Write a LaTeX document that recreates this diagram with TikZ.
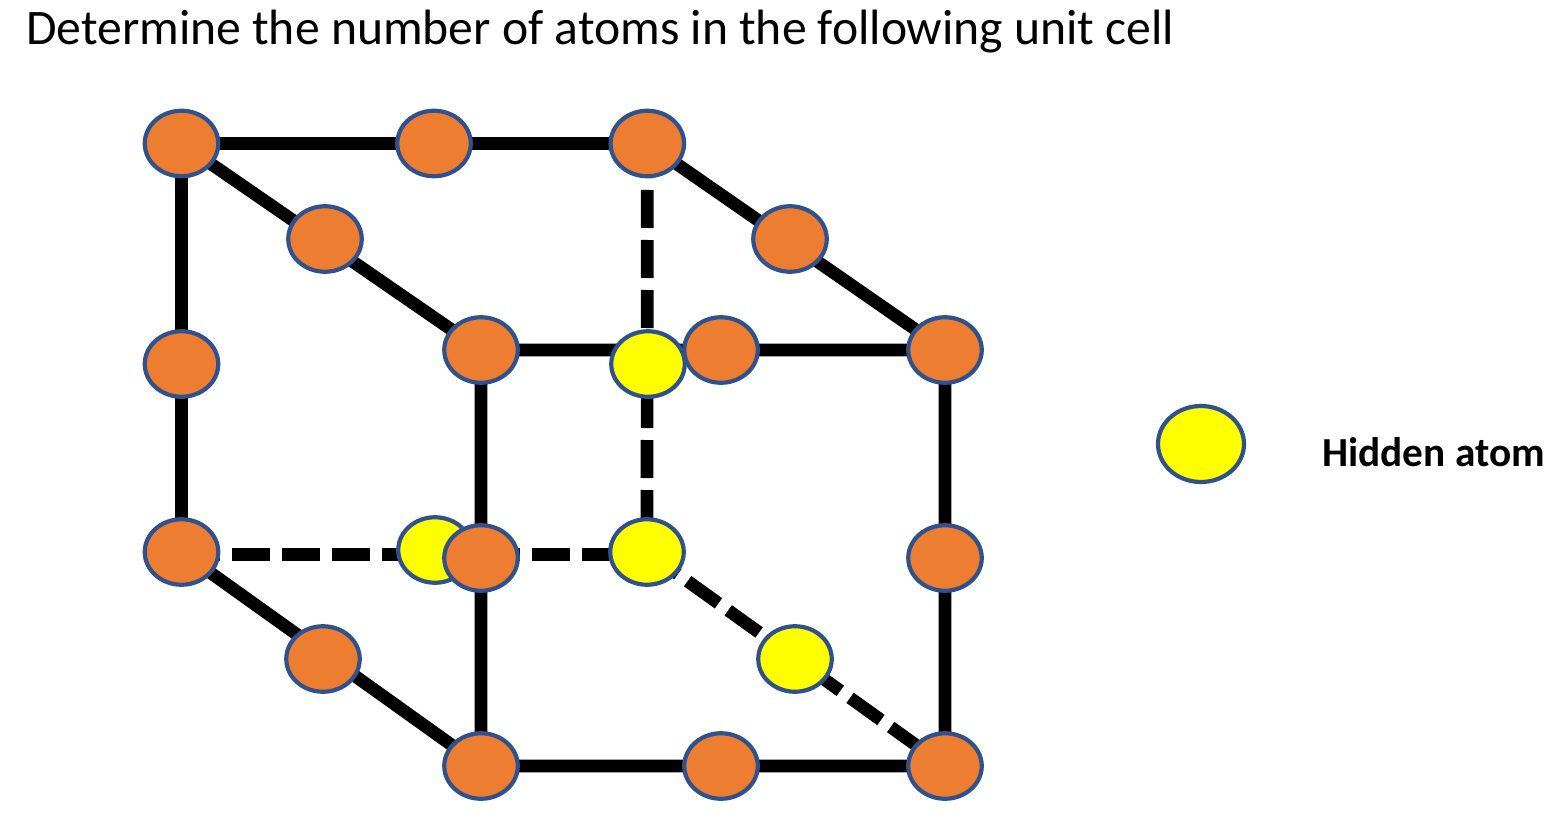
\documentclass[tikz,border=0pt]{standalone}
\usepackage{fontspec}
\setmainfont{Carlito}
\usetikzlibrary{shapes.geometric}
\definecolor{atomorange}{HTML}{ED7D31}
\definecolor{atomline}{HTML}{2F528F}
\definecolor{atomyellow}{HTML}{FFFF00}
\begin{document}
\begin{tikzpicture}[x=1pt,y=-1pt,
 atom/.style={ellipse,draw=atomline,line width=4.2pt,minimum width=73.5pt,minimum height=65.5pt,inner sep=0pt,outer sep=0pt},
 org/.style={atom,fill=atomorange},
 yel/.style={atom,fill=atomyellow},
 edge/.style={line width=12.7pt,black},
 hid/.style={line width=12.7pt,black,dash pattern=on 38pt off 12pt}]
\useasboundingbox (0,0) rectangle (1557,826);
\node[font=\fontsize{49.65}{56}\selectfont,anchor=west,inner sep=0pt] (title) at (26,32) {Determine the number of atoms in the following unit cell};
\coordinate (a) at (181.5,143.5); \coordinate (b) at (434,143.5); \coordinate (c) at (647.3,143.5);
\coordinate (d) at (325,239); \coordinate (e) at (790,239);
\coordinate (f) at (481,350); \coordinate (g) at (648,364); \coordinate (h) at (721,350); \coordinate (i) at (945,350);
\coordinate (j) at (181.5,364);
\coordinate (k) at (181.5,552); \coordinate (l) at (435,550); \coordinate (m) at (481,558); \coordinate (n) at (647,552); \coordinate (o) at (945,558);
\coordinate (p) at (323,659); \coordinate (q) at (795,659);
\coordinate (r) at (481,766); \coordinate (s) at (721,766); \coordinate (t) at (945,766);
\coordinate (ks) at (181.5,554.3); \coordinate (ns) at (647,554.3);
\draw[edge] (a)--(c) (a)--(k) (a)--(f) (c)--(i) (f)--(i) (f)--(r) (i)--(t) (k)--(r) (r)--(t);
\draw[hid,dash phase=3.5pt] (c)--(n);
\draw[hid] (ks)--(ns);
\draw[hid] (n)--(t);
\node[org] (na) at (a) {}; \node[org] (nb) at (b) {}; \node[org] (nc) at (c) {};
\node[org] (nd) at (d) {}; \node[org] (ne) at (e) {};
\node[org] (nh) at (h) {}; \node[org] (nf) at (f) {}; \node[yel] (ng) at (g) {}; \node[org] (ni) at (i) {};
\node[org] (nj) at (j) {};
\node[org] (nk) at (k) {}; \node[yel] (nl) at (l) {}; \node[org] (nm) at (m) {}; \node[yel] (nn) at (n) {}; \node[org] (no) at (o) {};
\node[org] (np) at (p) {}; \node[yel] (nq) at (q) {};
\node[org] (nr) at (r) {}; \node[org] (ns2) at (s) {}; \node[org] (nt) at (t) {};
\node[yel,minimum width=86pt,minimum height=76pt] (legend) at (1201,444) {};
\node[font=\bfseries\fontsize{41.3}{48}\selectfont,anchor=west,inner sep=0pt] (legendtext) at (1322,452) {Hidden atom};
\end{tikzpicture}
\end{document}
